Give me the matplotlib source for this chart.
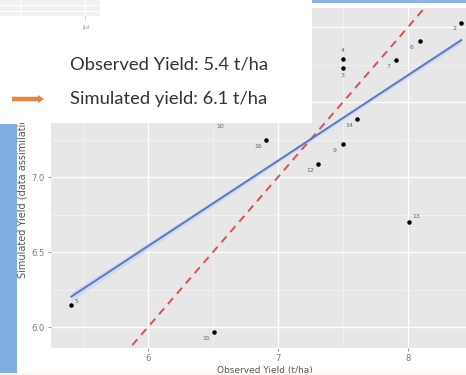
import numpy as np
import matplotlib
matplotlib.use("Agg")
import matplotlib.pyplot as plt
from matplotlib.patches import Rectangle, FancyArrow
from matplotlib.ticker import MultipleLocator

# Site data: observed vs simulated yield (t/ha)
site_ids = ["2", "3", "4", "5", "6", "7", "9", "10", "12", "13", "14", "15", "16"]
observed = [8.41, 7.50, 7.50, 5.41, 8.09, 7.91, 7.50, 6.62, 7.31, 8.01, 7.61, 6.51, 6.91]
simulated = [8.03, 7.73, 7.79, 6.15, 7.91, 7.78, 7.22, 7.38, 7.09, 6.70, 7.39, 5.97, 7.25]

# Fitted linear trend (simulated ~ observed)
fit_intercept = 3.119
fit_slope = 0.570

# Summary shown in the callout
obs_summary = "Observed Yield: 5.4 t/ha"
sim_summary = "Simulated yield: 6.1 t/ha"

W, H = 466, 375
fig = plt.figure(figsize=(W / 100, H / 100), dpi=100)
fig.patch.set_facecolor("white")

def fx(px):
    return px / W

def fy(py):
    return 1 - py / H

# ggplot-style scatter panel
left, right, top, bottom = 51, 479, 8, 348
ax = fig.add_axes([fx(left), fy(bottom), (right - left) / W, (bottom - top) / H])
ax.set_facecolor("#e7e7e7")
for s in ax.spines.values():
    s.set_visible(False)
ax.set_xlim(5.254, 8.546)
ax.set_ylim(5.86, 8.127)
ax.xaxis.set_major_locator(MultipleLocator(1))
ax.xaxis.set_minor_locator(MultipleLocator(0.5))
ax.yaxis.set_major_locator(MultipleLocator(0.5))
ax.yaxis.set_minor_locator(MultipleLocator(0.25))
ax.yaxis.set_major_formatter(matplotlib.ticker.FormatStrFormatter("%.1f"))
ax.grid(which="major", color="white", lw=1.0)
ax.grid(which="minor", color="#f2f2f2", lw=0.6)
ax.set_axisbelow(True)
ax.tick_params(which="major", length=2.5, width=0.6, color="#8a8a8a",
               labelsize=6, labelcolor="#7a7a7a", pad=2)
ax.tick_params(which="minor", length=0)
ax.set_xlabel("Observed Yield (t/ha)", fontsize=6.5, color="#555555", labelpad=2)
ax.set_ylabel("Simulated Yield (data assimilation) (t/ha)", fontsize=7,
              color="#555555", labelpad=3)

# 1:1 reference line
xs = np.array(ax.get_xlim())
ax.plot(xs, xs, ls=(0, (4, 3)), color="#dc5050", lw=1.4, zorder=3)

# Linear trend with a narrow confidence ribbon over the observed range
xf = np.linspace(min(observed), max(observed), 100)
yf = fit_intercept + fit_slope * xf
hw = 0.014 * np.sqrt(1 + ((xf - np.mean(observed)) / 1.0) ** 2)
ax.fill_between(xf, yf - hw, yf + hw, color="#cfd9ee", alpha=0.9, lw=0, zorder=2)
ax.plot(xf, yf, color="#5a78c8", lw=1.4, zorder=4)

ax.scatter(observed, simulated, s=5, color="black", zorder=5)

# label offsets in points
offsets = {"2": (-5, -4), "3": (0, -6), "4": (0, 6), "5": (4, 2), "13": (5, 4)}
for sid, x, y in zip(site_ids, observed, simulated):
    dx, dy = offsets.get(sid, (-6, -5))
    ax.annotate(sid, (x, y), xytext=(dx, dy), textcoords="offset points",
                fontsize=4.5, color="#666666", ha="center", va="center", zorder=6)

# Slide overlay drawn in pixel coordinates
ov = fig.add_axes([0, 0, 1, 1], zorder=10)
ov.set_xlim(0, W)
ov.set_ylim(H, 0)
ov.axis("off")
ov.patch.set_visible(False)

# left slide accent bar and top rule
ov.add_patch(Rectangle((0, 124), 17, H - 124, color="#7eafe0", lw=0))
ov.add_patch(Rectangle((312, 0), W - 312, 3, color="#8db6e4", lw=0))
ov.add_patch(Rectangle((312, 3), W - 312, 5, color="white", lw=0))
ov.add_patch(Rectangle((0, H - 2), W, 2, color="#fdf8e8", lw=0))

# callout box
ov.add_patch(Rectangle((0, 0), 312, 123, color="white", lw=0))
# fragment of a neighbouring chart
ov.add_patch(Rectangle((0, 0), 100, 16, color="#f1f1f1", lw=0))
for gx in (20, 85):
    ov.plot([gx, gx], [0, 16], color="white", lw=0.8)
for gy in (5, 11):
    ov.plot([0, 100], [gy, gy], color="white", lw=0.8)
ov.plot([85, 85], [16, 19], color="#cccccc", lw=0.6)
ov.text(86, 27, "Jul", fontsize=4.5, color="#999999", ha="center", va="center")

ov.text(70, 64, obs_summary, fontsize=13.2, family="Lato", color="#333333",
        ha="left", va="center")
ov.text(70, 99, sim_summary, fontsize=13.2, family="Lato", color="#333333",
        ha="left", va="center")
ov.add_patch(FancyArrow(12, 99, 26, 0, width=4.5, head_width=8, head_length=6,
                        length_includes_head=False, color="#e58443", lw=0))

fig.savefig("out.png", dpi=100, facecolor="white")
